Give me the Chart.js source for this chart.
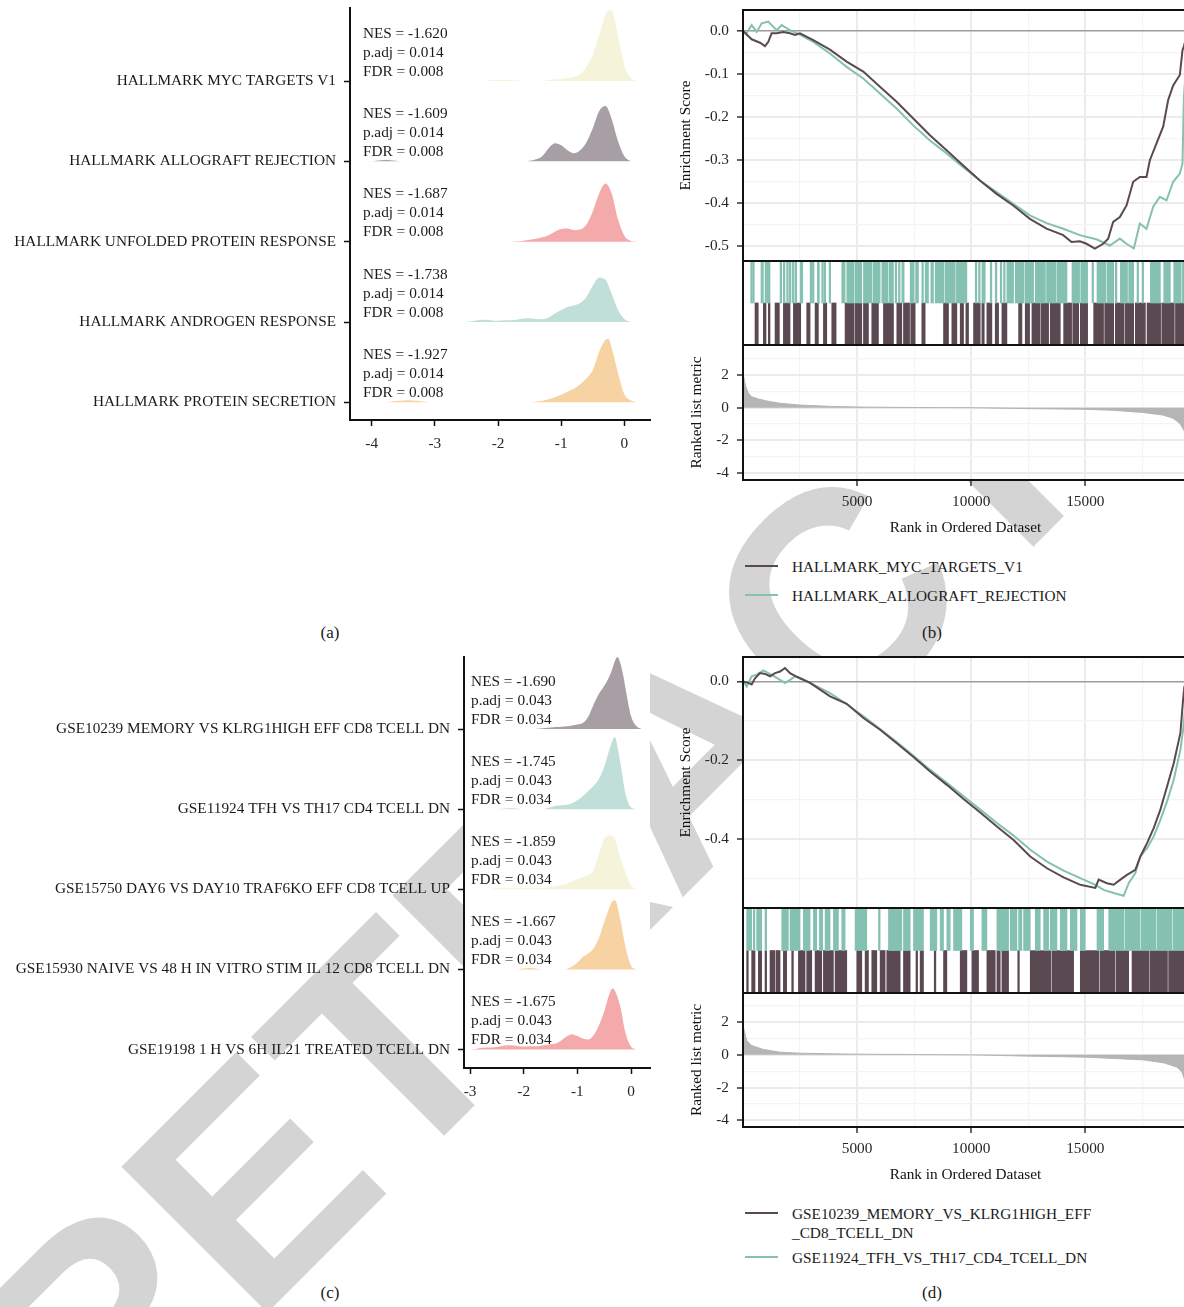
<!DOCTYPE html>
<html>
<head>
<meta charset="utf-8">
<title>GSEA ridge plots and running enrichment scores</title>
<script src="https://cdn.jsdelivr.net/npm/chart.js@4.4.1/dist/chart.umd.min.js"></script>
<style>
  html, body { margin: 0; padding: 0; overflow: hidden; background: #fff; }
  body { position: relative; width: 1184px; height: 1307px; font-family: "Liberation Serif", "Times New Roman", serif; color: #1a1a1a; }
  #wm { position: absolute; left: 0; top: 0; z-index: 0; }
  .plot { position: absolute; z-index: 1; }
  .txt { position: absolute; z-index: 2; font-size: 15.3px; line-height: 19px; white-space: nowrap; }
  .tag { position: absolute; z-index: 2; font-size: 17px; transform: translate(-50%, -50%); }
  .key { position: absolute; z-index: 2; height: 2px; width: 33px; }
</style>
</head>
<body>
<svg id="wm" width="1184" height="1307"><text x="100" y="1480" transform="rotate(-45 100 1480)" font-family="Liberation Sans, Arial, sans-serif" font-weight="bold" font-size="300" fill="#d4d4d4">RETRACTED</text></svg>

<canvas class="plot" id="ridgeA" width="660" height="470" style="left:0;top:0"></canvas>
<canvas class="plot" id="esB" width="540" height="261" style="left:660px;top:0"></canvas>
<canvas class="plot" id="hitB" width="540" height="92" style="left:660px;top:255px"></canvas>
<canvas class="plot" id="metricB" width="540" height="198" style="left:660px;top:339px"></canvas>

<canvas class="plot" id="ridgeC" width="660" height="470" style="left:0;top:648px"></canvas>
<canvas class="plot" id="esD" width="540" height="261" style="left:660px;top:647px"></canvas>
<canvas class="plot" id="hitD" width="540" height="93" style="left:660px;top:902px"></canvas>
<canvas class="plot" id="metricD" width="540" height="197" style="left:660px;top:987px"></canvas>

<script>
const FONT = '"Liberation Serif", "Times New Roman", serif';

// ---------- panel (a): hallmark gene sets ----------
const hallmarkSets = ['HALLMARK MYC TARGETS V1', 'HALLMARK ALLOGRAFT REJECTION', 'HALLMARK UNFOLDED PROTEIN RESPONSE', 'HALLMARK ANDROGEN RESPONSE', 'HALLMARK PROTEIN SECRETION'];
const hallmarkNES = ['-1.620', '-1.609', '-1.687', '-1.738', '-1.927'];
const hallmarkPadj = ['0.014', '0.014', '0.014', '0.014', '0.014'];
const hallmarkFDR = ['0.008', '0.008', '0.008', '0.008', '0.008'];
const hallmarkTicks = [-4, -3, -2, -1, 0];
const hallmarkColors = ['#f5f3d9', '#a89fa4', '#f4a9aa', '#c1dfd9', '#f7d2a3'];

// density of core-enrichment fold changes, [log2FC, density]
const mycDensity = [[-2.2,0],[-2.1,1],[-2.0,1],[-1.9,1],[-1.8,1],[-1.7,0.5],[-1.6,0],[-1.3,0],[-1.2,1],[-1.1,1.5],[-1.0,2],[-0.9,3],[-0.8,4],[-0.7,7],[-0.6,14],[-0.5,26],[-0.4,45],[-0.3,66],[-0.25,70],[-0.2,71],[-0.15,60],[-0.1,45],[0.0,16],[0.1,3],[0.2,0]];
const allograftDensity = [[-4.0,0],[-3.9,0.8],[-3.8,1.3],[-3.7,1],[-3.6,0.3],[-3.5,0],[-1.6,0],[-1.5,0.5],[-1.4,2],[-1.3,5],[-1.2,13],[-1.1,18],[-1.0,16],[-0.9,11],[-0.8,8],[-0.7,11],[-0.6,19],[-0.5,33],[-0.4,50],[-0.3,55],[-0.2,42],[-0.1,20],[0.0,5],[0.1,0]];
const unfoldedDensity = [[-1.8,0],[-1.7,0.3],[-1.6,1],[-1.5,2],[-1.4,3],[-1.3,4.5],[-1.2,6.5],[-1.1,10],[-1.0,12.5],[-0.9,13],[-0.8,11.5],[-0.7,12],[-0.6,17],[-0.5,30],[-0.4,48],[-0.3,58],[-0.2,48],[-0.1,22],[0.0,6],[0.1,1],[0.2,0]];
const androgenDensity = [[-2.6,0],[-2.5,0.3],[-2.4,1],[-2.3,2],[-2.2,2.3],[-2.1,1.5],[-2.0,1.3],[-1.9,1.7],[-1.8,1.8],[-1.7,2.3],[-1.6,3.5],[-1.5,3.8],[-1.4,3],[-1.3,2.8],[-1.2,4.5],[-1.1,8.5],[-1.0,12],[-0.9,15],[-0.8,16.5],[-0.7,19],[-0.6,25],[-0.5,36],[-0.4,44],[-0.3,42],[-0.2,28],[-0.1,12],[0.0,3],[0.1,0]];
const secretionDensity = [[-3.8,0],[-3.7,0.5],[-3.6,1.2],[-3.5,1.8],[-3.4,2],[-3.3,1.5],[-3.2,0.8],[-3.1,0.2],[-3.0,0],[-1.5,0],[-1.4,0.5],[-1.3,1.5],[-1.2,3],[-1.1,5],[-1.0,7.5],[-0.9,10.5],[-0.8,13.5],[-0.7,18],[-0.6,24],[-0.5,32],[-0.4,50],[-0.3,62],[-0.25,63],[-0.2,54],[-0.1,29],[0.0,8],[0.1,2],[0.2,0]];

// ---------- panel (c): immunologic gene sets ----------
const immuneSets = ['GSE10239 MEMORY VS KLRG1HIGH EFF CD8 TCELL DN', 'GSE11924 TFH VS TH17 CD4 TCELL DN', 'GSE15750 DAY6 VS DAY10 TRAF6KO EFF CD8 TCELL UP', 'GSE15930 NAIVE VS 48 H IN VITRO STIM IL 12 CD8 TCELL DN', 'GSE19198 1 H VS 6H IL21 TREATED TCELL DN'];
const immuneNES = ['-1.690', '-1.745', '-1.859', '-1.667', '-1.675'];
const immunePadj = ['0.043', '0.043', '0.043', '0.043', '0.043'];
const immuneFDR = ['0.034', '0.034', '0.034', '0.034', '0.034'];
const immuneTicks = [-3, -2, -1, 0];
const immuneColors = ['#a89fa4', '#c1dfd9', '#f5f3d9', '#f7d2a3', '#f4a9aa'];

const memoryDensity = [[-1.8,0],[-1.7,0.5],[-1.6,1],[-1.5,1.5],[-1.4,2],[-1.3,2.3],[-1.2,2.8],[-1.1,3.5],[-1.0,4.5],[-0.9,6],[-0.8,12],[-0.7,24],[-0.6,35],[-0.5,43],[-0.4,53],[-0.35,60],[-0.3,68],[-0.25,72],[-0.2,66],[-0.15,55],[-0.1,40],[0.0,13],[0.1,3],[0.2,0]];
const tfhDensity = [[-2.5,0],[-2.4,0.5],[-2.3,1],[-2.2,1],[-2.1,0.5],[-2.0,0],[-1.7,0],[-1.6,0.5],[-1.5,2],[-1.4,3.5],[-1.3,4],[-1.2,4.5],[-1.1,6],[-1.0,9],[-0.9,13],[-0.8,18],[-0.7,23],[-0.6,30],[-0.5,42],[-0.4,60],[-0.35,68],[-0.3,72],[-0.25,62],[-0.2,47],[-0.1,15],[0.0,2],[0.1,0]];
const day6Density = [[-2.7,0],[-2.6,0.3],[-2.5,1],[-2.4,1],[-2.3,1],[-2.2,1],[-2.1,1],[-2.0,1],[-1.9,1],[-1.8,1],[-1.7,1.3],[-1.6,1.6],[-1.5,2],[-1.4,3],[-1.3,4],[-1.2,5.5],[-1.1,8],[-1.0,10],[-0.9,12],[-0.8,14],[-0.7,19],[-0.6,35],[-0.5,50],[-0.4,54],[-0.3,50],[-0.2,32],[-0.1,16],[0.0,4],[0.1,0]];
const naiveDensity = [[-2.2,0],[-2.1,0.3],[-2.0,1],[-1.9,1.5],[-1.8,1.2],[-1.7,0.3],[-1.6,0],[-1.3,0],[-1.2,0.5],[-1.1,3],[-1.0,7],[-0.9,12.5],[-0.8,16],[-0.7,21],[-0.6,31],[-0.5,47],[-0.4,62],[-0.35,68],[-0.3,69],[-0.2,50],[-0.1,22],[0.0,4],[0.1,0]];
const il21Density = [[-3.0,0],[-2.9,0.5],[-2.8,1.5],[-2.7,2],[-2.6,2],[-2.5,2.5],[-2.4,3.5],[-2.3,4.3],[-2.2,4],[-2.1,3.3],[-2.0,3],[-1.9,3.3],[-1.8,3.3],[-1.7,3.5],[-1.6,4.5],[-1.5,5.3],[-1.4,6],[-1.3,9],[-1.2,13],[-1.1,15.3],[-1.0,13.5],[-0.9,11],[-0.8,10],[-0.7,14],[-0.6,24],[-0.5,38],[-0.4,56],[-0.35,61],[-0.3,59],[-0.2,43],[-0.1,16],[0.0,3],[0.1,0]];

// ---------- panels (b) and (d): running enrichment score ----------
const RANK_MAX = 19500;
const rankTicks = [2500, 5000, 7500, 10000, 12500, 15000, 17500];
const rankLabelled = [5000, 10000, 15000];
const metricMajor = [-4, -2, 0, 2];
const metricMinor = [-3, -1, 1, 3];

const legendB = [['HALLMARK_MYC_TARGETS_V1'], ['HALLMARK_ALLOGRAFT_REJECTION']];
const esMajorB = [-0.5, -0.4, -0.3, -0.2, -0.1, 0];
const esMinorB = [-0.45, -0.35, -0.25, -0.15, -0.05];
const mycES = [[0,0],[380,-0.019],[745,-0.027],[964,-0.035],[1110,-0.025],[1256,-0.005],[1475,-0.005],[1767,-0.002],[2059,-0.005],[2278,-0.009],[2497,-0.005],[3080,-0.021],[3811,-0.043],[4541,-0.071],[5271,-0.094],[6001,-0.129],[6731,-0.164],[7461,-0.203],[8191,-0.242],[8921,-0.277],[9651,-0.312],[10381,-0.347],[11112,-0.378],[11842,-0.405],[12572,-0.436],[13302,-0.459],[14032,-0.474],[14397,-0.49],[14762,-0.488],[15054,-0.494],[15419,-0.505],[15784,-0.494],[16003,-0.482],[16222,-0.443],[16514,-0.432],[16806,-0.405],[17098,-0.35],[17390,-0.339],[17682,-0.339],[17828,-0.3],[18120,-0.261],[18412,-0.222],[18631,-0.16],[18850,-0.126],[19142,-0.102],[19259,-0.044],[19317,-0.036],[19500,0]];
const allograftES = [[0,0],[161,-0.005],[380,0.014],[599,-0.002],[819,0.018],[1110,0.022],[1475,0.002],[1694,0.014],[2059,0.002],[2497,-0.008],[3080,-0.025],[3811,-0.052],[4541,-0.083],[5271,-0.11],[6001,-0.145],[6731,-0.18],[7461,-0.219],[8191,-0.254],[8921,-0.284],[9651,-0.316],[10381,-0.347],[11112,-0.374],[11842,-0.401],[12572,-0.428],[13302,-0.446],[14032,-0.459],[14762,-0.474],[15512,-0.484],[16076,-0.498],[16514,-0.482],[16806,-0.494],[17127,-0.505],[17390,-0.447],[17682,-0.459],[17974,-0.408],[18266,-0.385],[18558,-0.393],[18850,-0.35],[19142,-0.331],[19259,-0.308],[19317,-0.16],[19500,0]];
// hit positions in the ranked list (single ranks or [from, to] runs)
const mycHits = [526, 599, [892,1009], [1111,1184], [1404,1594], [1769,2061], [2208,2529], [2792,2939], [3158,3304], [3523,3670], [3889,4079], [4474,4850], [4900,5205], [5278,5497], [5643,5936], [6155,6594], [6740,6959], [7032,7300], [7350,7544], [7836,7982], [8787,9006], [9152,9371], [9518,9664], [9766,9883], [10102,10395], [10468,10570], [10687,10906], [11053,11199], [11345,11564], [12076,12222], [12368,12558], [12661,13000], [13050,13392], [13465,13903], [14050,14400], [14450,14708], [14781,15102], [15366,15800], [15850,16243], [16316,16700], [16750,17120], [17193,17632], [17705,18300], [18350,18900], [18950,19500]];
const allograftHits = [336, 424, [789,892], 965, [1067,1184], [1623,1696], 1769, 1915, 2032, 2164, [2281,2354], [2500,2617], 2939, 3041, [3260,3348], 3450, 3553, 3772, [4328,4474], [4547,4850], [4900,5205], [5278,5650], [5700,6009], [6082,6350], [6400,6594], 6667, 6813, [6959,7061], [7325,7500], [7560,7690], 7836, [7982,8129], [8231,8348], [8421,8800], [8850,9300], [9350,9810], 10176, 10322, [10468,10614], 10833, [11053,11126], 11272, 11418, [11564,11857], [11930,12300], [12350,12734], [12807,13250], [13300,13700], [13750,14196], [14415,14750], [14800,15102], 15293, [15512,15900], [15950,16243], 16316, [16536,16850], [16900,17120], 17266, 17486, [17851,18290], [18436,18728], [18875,19200], [19250,19500]];
const metricB = [[0,2.1],[117,1.3],[234,0.9],[380,0.67],[673,0.53],[1040,0.41],[1620,0.27],[2500,0.16],[3800,0.08],[5000,0.04],[7500,0.01],[10000,0],[12570,-0.06],[15000,-0.1],[16200,-0.16],[17500,-0.29],[18400,-0.45],[18850,-0.65],[19140,-0.96],[19320,-1.37],[19500,-2.3]];

const legendD = [['GSE10239_MEMORY_VS_KLRG1HIGH_EFF', '_CD8_TCELL_DN'], ['GSE11924_TFH_VS_TH17_CD4_TCELL_DN']];
const esMajorD = [-0.4, -0.2, 0];
const esMinorD = [-0.5, -0.3, -0.1];
const memoryES = [[0,0],[234,-0.004],[380,-0.008],[526,0.008],[745,0.021],[965,0.019],[1184,0.013],[1404,0.021],[1623,0.025],[1842,0.034],[2061,0.021],[2281,0.014],[2500,0.008],[2939,-0.004],[3816,-0.038],[4547,-0.057],[5278,-0.093],[6009,-0.123],[6740,-0.157],[7471,-0.192],[8202,-0.229],[8933,-0.263],[9664,-0.299],[10395,-0.333],[11126,-0.369],[11857,-0.403],[12588,-0.445],[13319,-0.475],[14050,-0.498],[14781,-0.517],[15439,-0.525],[15585,-0.504],[15950,-0.513],[16243,-0.517],[16536,-0.504],[16828,-0.492],[17193,-0.479],[17412,-0.445],[17705,-0.411],[17997,-0.373],[18290,-0.326],[18582,-0.267],[18875,-0.208],[19167,-0.131],[19284,-0.047],[19342,-0.013],[19500,0]];
const tfhES = [[0,0],[161,-0.013],[380,0.013],[599,0.017],[892,0.028],[1111,0.021],[1330,0.014],[1623,0.004],[1842,-0.004],[2061,0.004],[2281,0.013],[2500,0.008],[2939,-0.004],[3816,-0.03],[4547,-0.058],[5278,-0.089],[6009,-0.121],[6740,-0.154],[7471,-0.189],[8202,-0.225],[8933,-0.258],[9664,-0.292],[10395,-0.326],[11126,-0.36],[11857,-0.392],[12588,-0.428],[13319,-0.458],[14050,-0.481],[14781,-0.5],[15439,-0.517],[15804,-0.53],[16243,-0.538],[16682,-0.545],[16901,-0.513],[17193,-0.487],[17412,-0.445],[17705,-0.424],[17997,-0.394],[18290,-0.352],[18582,-0.305],[18875,-0.25],[19167,-0.174],[19284,-0.123],[19342,-0.089],[19500,0]];
const memoryHits = [161, [380,526], [673,819], 965, [1184,1400], [1450,1623], [1769,1915], [2135,2208], [2427,2719], [2792,3012], [3158,3450], [3523,3962], [4035,4547], [4985,5205], [5351,5497], [5643,5863], [6009,6228], [6301,6886], [7032,7325], 7580, [7763,7909], 8380, [8787,8933], [9518,9810], [10029,10322], [10687,11053], [11126,11272], [11345,11637], 12040, [12588,13500], [13550,14488], [14781,15600], [15650,16300], [16350,16901], [17047,17800], [17850,18600], [18650,19500]];
const tfhHits = [[161,380], 453, [599,819], [965,1038], [1696,1988], [2061,2500], [2646,2939], [3085,3231], [3348,3494], [3597,3816], [3962,4181], [4328,4474], [4912,5424], [5936,6009], [6374,6959], [7032,7325], [7471,7909], [8202,8494], [8640,8787], [8933,9079], [9225,9591], [9956,10102], [10468,10687], [11126,11637], [11711,12003], [12076,12222], [12295,12588], [12807,13026], [13173,13392], [13465,13757], [13903,14196], [14342,14635], [14781,15000], [15512,15804], [16024,16700], [16750,17400], [17450,18100], [18150,18800], [18850,19500]];
const metricD = [[0,1.8],[88,1.29],[161,0.88],[380,0.57],[892,0.33],[1623,0.16],[2500,0.1],[5000,0.04],[10000,0],[12588,-0.08],[15000,-0.14],[17560,-0.31],[18436,-0.49],[19020,-0.75],[19240,-1.06],[19342,-1.47],[19500,-2.4]];

const DARK = '#5b4951';
const TEAL = '#85c1b1';
const ROW_UNITS = 80;     // density units per ridge row
const HIT_WIDTH = 70;     // ranks covered by one hit stroke

Chart.defaults.font.family = FONT;
Chart.defaults.font.size = 15.3;
Chart.defaults.color = '#262626';
Chart.defaults.animation = false;
Chart.defaults.responsive = false;
Chart.defaults.plugins.legend.display = false;
Chart.defaults.plugins.tooltip.enabled = false;

// white panel background so the watermark only shows outside the plots
const panelBg = {
  id: 'panelBg',
  beforeDraw(chart) {
    const { ctx, chartArea: a } = chart;
    ctx.save();
    ctx.fillStyle = '#fff';
    ctx.fillRect(a.left, a.top, a.right - a.left, a.bottom - a.top);
    ctx.restore();
  }
};

const frame = {
  id: 'frame',
  afterDraw(chart, args, opts) {
    if (!opts.on) return;
    const { ctx, chartArea: a } = chart;
    ctx.save();
    ctx.strokeStyle = '#111';
    ctx.lineWidth = 2;
    ctx.strokeRect(a.left, a.top, a.right - a.left, a.bottom - a.top);
    ctx.restore();
  }
};

const nesText = {
  id: 'nesText',
  afterDatasetsDraw(chart, args, o) {
    if (!o.nes) return;
    const { ctx, scales: { x, y } } = chart;
    const left = x.getPixelForValue(o.anchor);
    ctx.save();
    ctx.font = '15.3px ' + FONT;
    ctx.fillStyle = '#1a1a1a';
    ctx.textBaseline = 'middle';
    o.nes.forEach((nes, i) => {
      const base = y.getPixelForValue(o.nes.length - i);
      ['NES = ' + nes, 'p.adj = ' + o.padj[i], 'FDR = ' + o.fdr[i]].forEach((t, k) => {
        ctx.fillText(t, left, base - 47.5 + 19 * k);
      });
    });
    ctx.restore();
  }
};

Chart.register(panelBg, frame, nesText);

// fixed axis box, no extra room for overhanging tick labels
function fixSize(w, h) {
  return s => {
    if (w !== null) s.width = w;
    if (h !== null) s.height = h;
    s.paddingTop = 0; s.paddingBottom = 0; s.paddingLeft = 0; s.paddingRight = 0;
  };
}

function ridgeChart(id, o) {
  const n = o.names.length;
  return new Chart(document.getElementById(id), {
    type: 'line',
    data: {
      datasets: o.density.map((d, i) => ({
        data: d.map(([x, h]) => ({ x, y: n - i + h / ROW_UNITS })),
        fill: { value: n - i },
        backgroundColor: o.colors[i],
        borderWidth: 0,
        pointRadius: 0,
        cubicInterpolationMode: 'monotone'
      }))
    },
    options: {
      layout: { padding: { top: o.top, right: 10 } },
      scales: {
        x: {
          type: 'linear', min: o.xMin, max: o.xMax,
          afterBuildTicks: s => { s.ticks = o.ticks.map(v => ({ value: v })); },
          afterFit: fixSize(null, 50),
          ticks: { padding: 9, autoSkip: false, maxRotation: 0, callback: v => String(v) },
          grid: { drawOnChartArea: false, tickLength: 6, tickColor: '#111', tickWidth: 1.5 },
          border: { color: '#111', width: 2 }
        },
        y: {
          type: 'linear', min: o.yMin, max: o.yMax,
          afterBuildTicks: s => { s.ticks = o.names.map((_, i) => ({ value: n - i })); },
          afterFit: fixSize(o.axisLeft, null),
          ticks: { padding: 8, autoSkip: false, color: '#1a1a1a', callback: v => o.names[n - v] },
          grid: { drawOnChartArea: false, tickLength: 6, tickColor: '#111', tickWidth: 1.5 },
          border: { color: '#111', width: 2 }
        }
      },
      plugins: { nesText: { anchor: o.anchor, nes: o.nes, padj: o.padj, fdr: o.fdr } }
    }
  });
}

function gridOpts(isMajor, zeroLine) {
  return {
    color: c => (zeroLine && c.tick && c.tick.value === 0) ? '#9c9c9c' : (c.tick && isMajor(c.tick.value) ? '#ebebeb' : '#f4f4f4'),
    lineWidth: c => (zeroLine && c.tick && c.tick.value === 0) ? 1.6 : (c.tick && isMajor(c.tick.value) ? 2 : 1.2),
    tickColor: c => (c.tick && isMajor(c.tick.value)) ? '#333' : 'rgba(0,0,0,0)',
    tickLength: 6,
    tickWidth: 1.5
  };
}
const isRankLabel = v => rankLabelled.includes(v);

function rankAxis(extra) {
  return Object.assign({
    type: 'linear', min: 0, max: RANK_MAX,
    afterBuildTicks: s => { s.ticks = rankTicks.map(v => ({ value: v })); },
    border: { display: false }
  }, extra);
}

function esChart(id, p) {
  const ticks = [...p.minor, ...p.major].sort((a, b) => a - b);
  const isMajor = v => p.major.includes(v);
  return new Chart(document.getElementById(id), {
    type: 'line',
    data: {
      datasets: p.sets.map((s, i) => ({
        data: s.map(([x, y]) => ({ x, y })),
        borderColor: p.colors[i], borderWidth: 2, pointRadius: 0, tension: 0
      }))
    },
    options: {
      layout: { padding: { top: 10, right: 12 } },
      scales: {
        x: rankAxis({
          afterFit: fixSize(null, 0),
          ticks: { display: false },
          grid: Object.assign(gridOpts(isRankLabel), { drawTicks: false })
        }),
        y: {
          type: 'linear', min: p.min, max: p.max,
          afterBuildTicks: s => { s.ticks = ticks.map(v => ({ value: v })); },
          afterFit: fixSize(83, null),
          ticks: { padding: 8, autoSkip: false, callback: v => isMajor(v) ? v.toFixed(1) : '' },
          grid: gridOpts(isMajor, true),
          border: { display: false },
          title: { display: true, text: 'Enrichment Score', color: '#111', padding: { top: 17, bottom: 0 } }
        }
      },
      plugins: { frame: { on: true } }
    }
  });
}

function hitChart(id, p) {
  const span = h => typeof h === 'number' ? [h, h + HIT_WIDTH] : h;
  return new Chart(document.getElementById(id), {
    type: 'bar',
    data: {
      labels: ['upper', 'lower'],
      datasets: [
        { data: p.upper.map(h => ({ x: span(h), y: 'upper' })), backgroundColor: TEAL },
        { data: p.lower.map(h => ({ x: span(h), y: 'lower' })), backgroundColor: DARK }
      ]
    },
    options: {
      indexAxis: 'y',
      layout: { padding: { left: 83, right: 12, top: 6, bottom: 2 } },
      datasets: { bar: { grouped: false, barPercentage: 1, categoryPercentage: 1, borderWidth: 0, borderSkipped: false } },
      scales: {
        x: { type: 'linear', min: 0, max: RANK_MAX, display: false },
        y: { type: 'category', display: false }
      },
      plugins: { frame: { on: true } }
    }
  });
}

function metricChart(id, p) {
  const ticks = [...metricMinor, ...metricMajor].sort((a, b) => a - b);
  const isMajor = v => metricMajor.includes(v);
  return new Chart(document.getElementById(id), {
    type: 'line',
    data: {
      datasets: [{
        data: p.metric.map(([x, y]) => ({ x, y })),
        fill: 'origin', backgroundColor: '#b5b5b5', borderColor: '#b5b5b5',
        borderWidth: 1, pointRadius: 0, tension: 0
      }]
    },
    options: {
      layout: { padding: { top: 6, right: 12 } },
      scales: {
        x: rankAxis({
          afterFit: fixSize(null, 57),
          ticks: { padding: 7, autoSkip: false, maxRotation: 0, callback: v => isRankLabel(v) ? String(v) : '' },
          grid: gridOpts(isRankLabel),
          title: { display: true, text: 'Rank in Ordered Dataset', color: '#111', padding: { top: 0, bottom: 0 } }
        }),
        y: {
          type: 'linear', min: p.min, max: p.max,
          afterBuildTicks: s => { s.ticks = ticks.map(v => ({ value: v })); },
          afterFit: fixSize(83, null),
          ticks: { padding: 8, autoSkip: false, callback: v => isMajor(v) ? String(v) : '' },
          grid: gridOpts(isMajor),
          border: { display: false },
          title: { display: true, text: 'Ranked list metric', color: '#111', padding: { top: 27.5, bottom: 0 } }
        }
      },
      plugins: { frame: { on: true } }
    }
  });
}

function addLegend(entries, colors, ys) {
  entries.forEach((lines, i) => {
    const key = document.createElement('div');
    key.className = 'key';
    key.style.left = '745px';
    key.style.top = (ys[i] - 1) + 'px';
    key.style.background = colors[i];
    document.body.appendChild(key);
    const t = document.createElement('div');
    t.className = 'txt';
    t.style.left = '792px';
    t.style.top = (ys[i] - 9.5) + 'px';
    t.innerHTML = lines.join('<br>');
    document.body.appendChild(t);
  });
}

function addTag(text, x, y) {
  const t = document.createElement('div');
  t.className = 'tag';
  t.style.left = x + 'px';
  t.style.top = y + 'px';
  t.textContent = text;
  document.body.appendChild(t);
}

ridgeChart('ridgeA', {
  names: hallmarkSets, nes: hallmarkNES, padj: hallmarkPadj, fdr: hallmarkFDR,
  density: [mycDensity, allograftDensity, unfoldedDensity, androgenDensity, secretionDensity],
  colors: hallmarkColors, ticks: hallmarkTicks,
  xMin: -4.344, xMax: 0.406, yMin: 0.78, yMax: 5.909,
  top: 8, axisLeft: 350, anchor: -4.14
});

ridgeChart('ridgeC', {
  names: immuneSets, nes: immuneNES, padj: immunePadj, fdr: immuneFDR,
  density: [memoryDensity, tfhDensity, day6Density, naiveDensity, il21Density],
  colors: immuneColors, ticks: immuneTicks,
  xMin: -3.112, xMax: 0.354, yMin: 0.77, yMax: 5.905,
  top: 8.5, axisLeft: 464, anchor: -2.98
});

esChart('esB', { sets: [mycES, allograftES], colors: [DARK, TEAL], min: -0.534, max: 0.049, major: esMajorB, minor: esMinorB });
hitChart('hitB', { upper: allograftHits, lower: mycHits });
metricChart('metricB', { metric: metricB, min: -4.42, max: 3.83 });

esChart('esD', { sets: [memoryES, tfhES], colors: [DARK, TEAL], min: -0.576, max: 0.062, major: esMajorD, minor: esMinorD });
hitChart('hitD', { upper: tfhHits, lower: memoryHits });
metricChart('metricD', { metric: metricD, min: -4.4, max: 3.77 });

addLegend(legendB, [DARK, TEAL], [566, 595]);
addLegend(legendD, [DARK, TEAL], [1213, 1257]);

addTag('(a)', 330, 633);
addTag('(b)', 932, 633);
addTag('(c)', 330, 1293);
addTag('(d)', 932, 1293);
</script>
</body>
</html>
